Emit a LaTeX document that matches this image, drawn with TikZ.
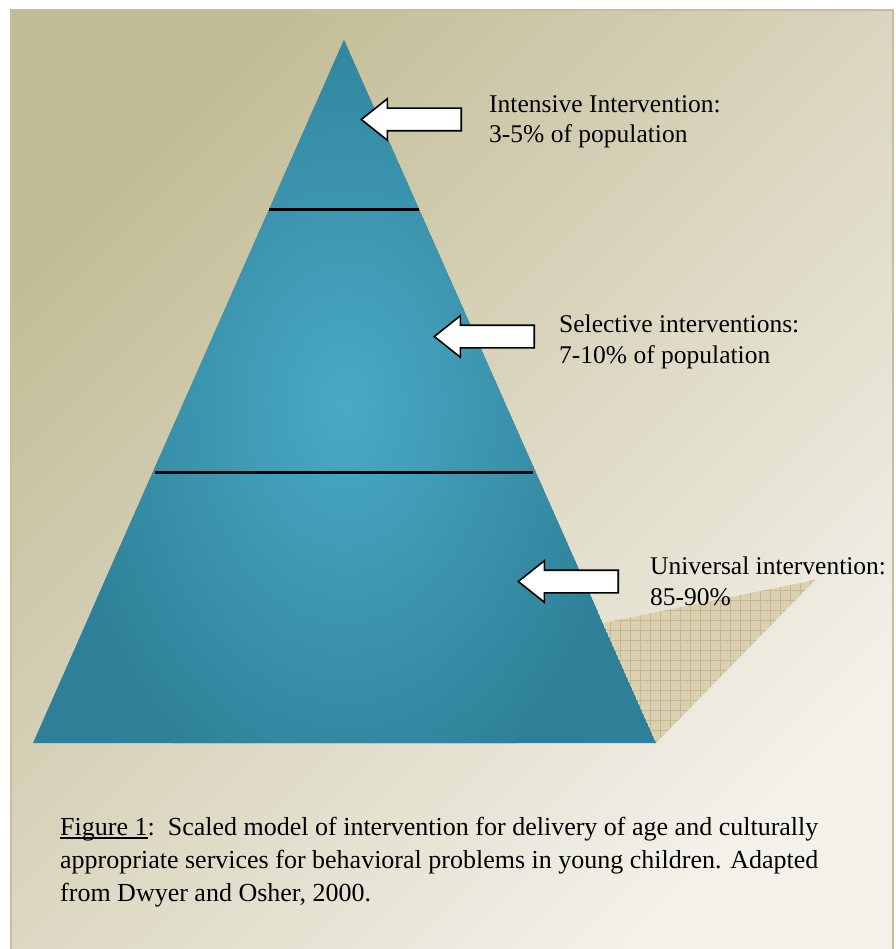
\documentclass[tikz,border=0pt]{standalone}
\usepackage{fontspec}
\setmainfont{Liberation Serif}
\usetikzlibrary{calc,shapes.arrows}
\definecolor{bgdark}{RGB}{194,188,150}
\definecolor{bgmid}{RGB}{222,218,196}
\definecolor{bglight}{RGB}{243,241,234}
\definecolor{frameline}{RGB}{198,190,152}
\definecolor{tealdark}{RGB}{46,128,152}
\definecolor{teallight}{RGB}{74,170,197}
\definecolor{shadowfill}{RGB}{218,208,178}
\definecolor{shadowgrid}{RGB}{196,183,145}
\tikzset{
  blockarrow/.style={single arrow, shape border rotate=180, draw=black, fill=white,
    line width=1.6pt, minimum height=100pt, minimum width=40pt,
    single arrow head extend=9.5pt, single arrow tip angle=77,
    inner xsep=0pt, inner ysep=10.5pt, text height=0pt, text depth=0pt},
  lbl/.style={font=\fontsize{25.5}{30.5}\selectfont, align=left, inner sep=0pt, text=black},
  captiontext/.style={font=\fontsize{26}{33}\selectfont, align=left, inner sep=0pt, text=black},
  tier/.style={line width=3pt, black}
}
\begin{document}
\begin{tikzpicture}[x=1pt,y=-1pt]
\useasboundingbox (0,0) rectangle (895,949);
\fill[white] (0,0) rectangle (895,949);
% background panel
\shade[top color=bgdark, middle color=bgmid, bottom color=bglight, shading angle=45]
  (11,10) rectangle (893,955);
\draw[frameline, line width=1.5pt] (11,955) -- (11,10) -- (893,10) -- (893,955);
% pyramid corners
\coordinate (apex) at (344,40);
\coordinate (bl) at (33,743);
\coordinate (br) at (656,743);
% shadow
\coordinate (s1) at (603,623);
\coordinate (s2) at (815,580);
\begin{scope}
  \clip (s1) -- (s2) -- (br) -- cycle;
  \fill[shadowfill] (590,570) rectangle (830,750);
  \foreach \g in {0,...,24} {
    \draw[shadowgrid, line width=0.7pt] (590+\g*10,570) -- (590+\g*10,750);
  }
  \foreach \g in {0,...,18} {
    \draw[shadowgrid, line width=0.7pt] (590,570+\g*10) -- (830,570+\g*10);
  }
\end{scope}
% pyramid
\begin{scope}
  \clip (apex) -- (br) -- (bl) -- cycle;
  \fill[tealdark] (apex) -- (br) -- (bl) -- cycle;
  \shade[inner color=teallight, outer color=tealdark] (345,405) ellipse (290 and 420);
\end{scope}
% tier lines
\draw[tier] ($(apex)!0.2418!(bl)$) -- ($(apex)!0.2418!(br)$);
\draw[tier] ($(apex)!0.6159!(bl)+(3,0)$) -- ($(apex)!0.6159!(br)+(-3,0)$);
% arrows
\node[blockarrow, anchor=tip] (arr1) at (360,119.5) {};
\node[blockarrow, anchor=tip] (arr2) at (433,336.5) {};
\node[blockarrow, anchor=tip] (arr3) at (517,581.5) {};
% labels (base = last line)
\node[lbl, anchor=base west] (lab1) at (489,143) {Intensive Intervention:\\3-5\% of population};
\node[lbl, anchor=base west] (lab2) at (559,363) {Selective interventions:\\7-10\% of population};
\node[lbl, anchor=base west] (lab3) at (650,605) {Universal intervention:\\85-90\%};
% caption
\node[captiontext, anchor=base west] (caption) at (60,901)
  {\setbox0\hbox{Figure 1}\rlap{\rule[-3.5pt]{\wd0}{1.3pt}}\box0:\ \ Scaled model of intervention for delivery of age and culturally\\
   appropriate services for behavioral problems in young children. Adapted\\
   from Dwyer and Osher, 2000.};
\end{tikzpicture}
\end{document}
